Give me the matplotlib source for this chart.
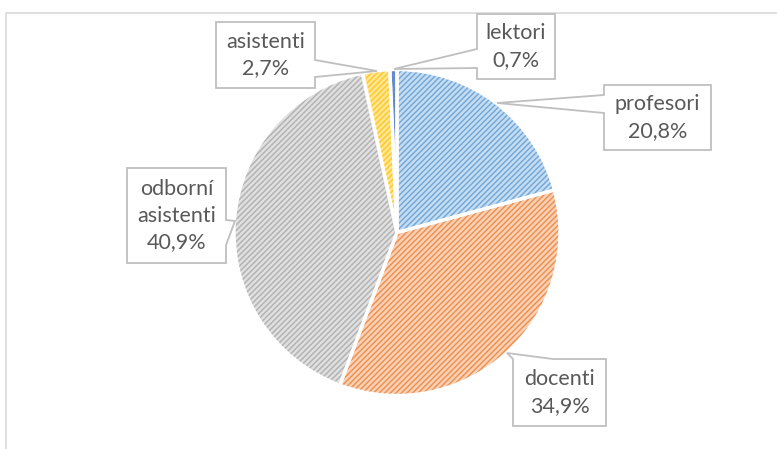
import matplotlib
matplotlib.use("Agg")
import matplotlib.pyplot as plt
from matplotlib.patches import Polygon
from matplotlib.colors import to_rgb
import numpy as np

categories = ["profesori", "docenti", "odborní asistenti", "asistenti", "lektori"]
values = [20.8, 34.9, 40.9, 2.7, 0.7]
label_texts = ["profesori\n20,8%", "docenti\n34,9%", "odborní\nasistenti\n40,9%", "asistenti\n2,7%", "lektori\n0,7%"]
colors = ["#5B9BD5", "#ED7D31", "#A5A5A5", "#FFC000", "#4472C4"]

W, H = 777, 449
plt.rcParams['font.family'] = ['Lato', 'DejaVu Sans']
plt.rcParams['hatch.linewidth'] = 1.1

fig = plt.figure(figsize=(W / 100, H / 100), dpi=100)
ax = fig.add_axes([0, 0, 1, 1])

def py(y):
    return H - y

cx, cy, r = 397, 232.5, 163

def tint(c, a):
    rgb = np.array(to_rgb(c))
    return tuple(rgb * a + (1 - a) * np.ones(3))

face_alpha = [0.34, 0.34, 0.34, 0.4, 0.8]
wedges, _ = ax.pie(values, startangle=90, counterclock=False, center=(cx, py(cy)), radius=r,
                   colors=[tint(c, a) for c, a in zip(colors, face_alpha)],
                   wedgeprops=dict(linewidth=0, hatch='//////'), frame=True)
for w, c in zip(wedges, colors):
    w.set_edgecolor(tint(c, 0.85))
    w.set_linewidth(0)
ax.pie(values, startangle=90, counterclock=False, center=(cx, py(cy)), radius=r,
       colors=['none'] * len(values),
       wedgeprops=dict(linewidth=2.4, edgecolor='white', facecolor='none'), frame=True)
ax.set_xlim(0, W)
ax.set_ylim(0, H)
ax.set_aspect('equal')
ax.axis('off')

# outer chart border (top and left visible)
ax.plot([6, 6, W + 5], [py(H + 5), py(13), py(13)], color='#D9D9D9', lw=1.2, solid_capstyle='butt')

# callout shapes (pixel coordinates)
callouts = [
    dict(box=(604, 85, 711, 150), poly=[(604, 85), (711, 85), (711, 150), (604, 150), (604, 113), (497, 103), (604, 95)]),
    dict(box=(513, 359, 606, 426), poly=[(513, 359), (507, 353), (553, 359), (606, 359), (606, 426), (513, 426)]),
    dict(box=(127, 168, 226, 263), poly=[(127, 168), (226, 168), (226, 220), (235, 221), (226, 245), (226, 263), (127, 263)]),
    dict(box=(216, 22, 315, 88), poly=[(216, 22), (315, 22), (315, 60), (377, 71), (315, 77), (315, 88), (216, 88)]),
    dict(box=(477, 14, 555, 79), poly=[(477, 14), (555, 14), (555, 79), (477, 79), (477, 68), (394, 69), (477, 49)]),
]

for co, txt in zip(callouts, label_texts):
    pts = [(x, py(y)) for x, y in co['poly']]
    ax.add_patch(Polygon(pts, closed=True, facecolor='white', edgecolor='#BFBFBF', lw=1.3, zorder=5))
    l, t, rr, b = co['box']
    ax.text((l + rr) / 2, py((t + b) / 2), txt, ha='center', va='center', fontsize=15.5,
            color='#595959', linespacing=1.4, zorder=6)

fig.savefig("out.png", dpi=100)
